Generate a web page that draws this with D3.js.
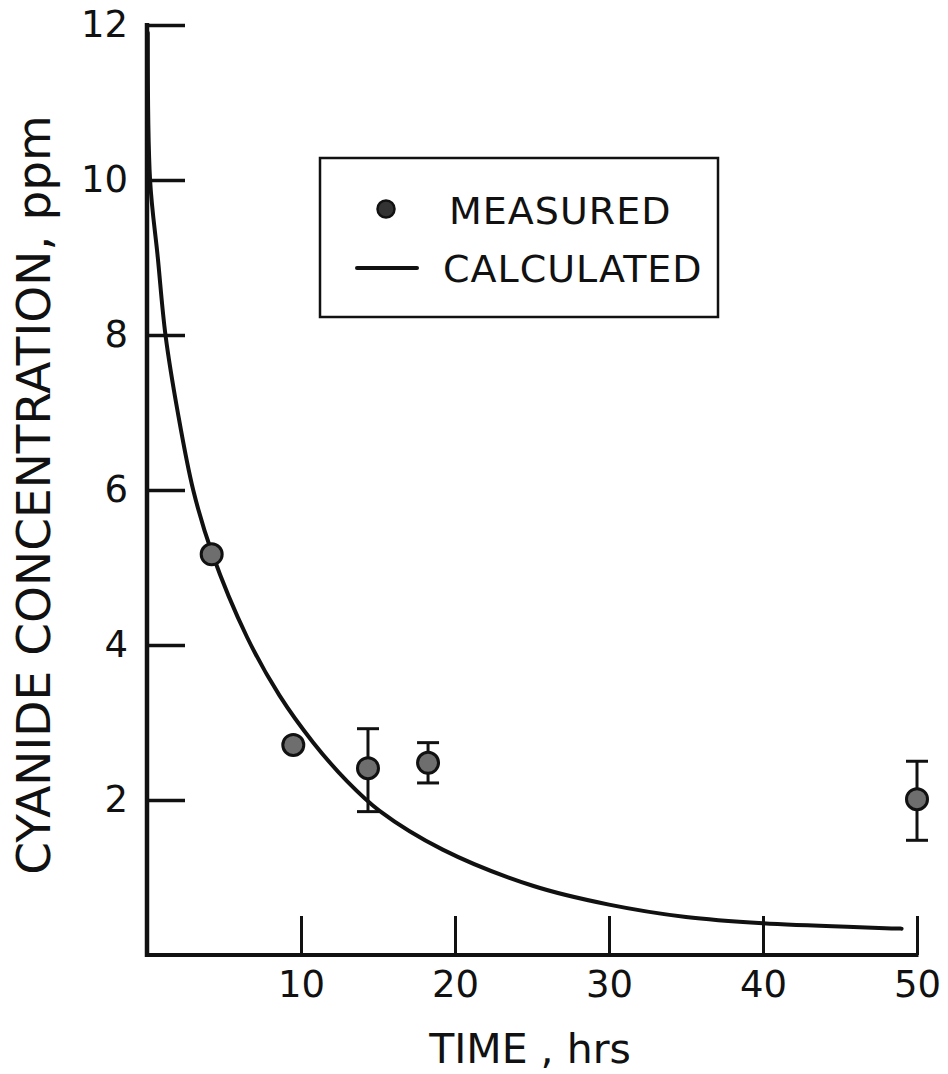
<!DOCTYPE html>
<html>
<head>
<meta charset="utf-8">
<script src="https://cdn.jsdelivr.net/npm/d3@7"></script>
<style>
  body { margin: 0; background: #fff; }
  text { font-family: "DejaVu Sans", sans-serif; fill: #111; }
</style>
</head>
<body>
<svg id="chart" width="948" height="1074"></svg>
<script>
// measured points (hrs, ppm)
var measTime = [4.2, 9.5, 14.35, 18.25, 50.0];
var measConc = [5.17, 2.71, 2.41, 2.48, 2.01];
// error bars: null = no bar
var errLow  = [null, null, 1.85, 2.22, 1.48];
var errHigh = [null, null, 2.92, 2.74, 2.50];

// calculated curve
var calcTime = [0.05, 0.2, 0.7, 1.2, 2.0, 3.0, 4.2, 6.5, 8.6, 10.8, 13.0, 15.1, 19.2, 25.1, 30, 35, 40, 49.0];
var calcConc = [11.9, 10.0, 9.0, 8.0, 7.0, 6.0, 5.2, 4.1, 3.35, 2.74, 2.24, 1.86, 1.36, 0.89, 0.65, 0.49, 0.41, 0.34];

var xTicks = [10, 20, 30, 40, 50];
var yTicks = [2, 4, 6, 8, 10, 12];

var svg = d3.select("#chart");

var x = d3.scaleLinear().domain([0, 50]).range([147, 917]);
var y = d3.scaleLinear().domain([0, 12]).range([955, 25]);

// axes, ticks pointing inward
var xAxis = svg.append("g")
    .attr("transform", "translate(0," + y(0) + ")")
    .call(d3.axisBottom(x).tickValues(xTicks).tickSize(-39).tickSizeOuter(0).tickPadding(16));
var yAxis = svg.append("g")
    .attr("transform", "translate(" + x(0) + ",0)")
    .call(d3.axisLeft(y).tickValues(yTicks).tickSize(-38).tickSizeOuter(0).tickPadding(19));

xAxis.select(".domain").attr("stroke", "#111").attr("stroke-width", 4).attr("d", "M" + (x(0) - 2) + ",0H" + (x(50) + 1.5));
yAxis.select(".domain").attr("stroke", "#111").attr("stroke-width", 4.5).attr("d", "M0," + (y(12) - 2) + "V" + (y(0) + 2));
xAxis.selectAll(".tick line").attr("stroke", "#111").attr("stroke-width", 3);
yAxis.selectAll(".tick line").attr("stroke", "#111").attr("stroke-width", 3.5);
xAxis.selectAll(".tick text").style("font-size", "37px").attr("fill", "#111");
yAxis.selectAll(".tick text").style("font-size", "37px").attr("fill", "#111");

// axis titles
svg.append("text")
    .attr("x", 530).attr("y", 1063)
    .attr("text-anchor", "middle")
    .style("font-size", "41px")
    .text("TIME , hrs");
svg.append("text")
    .attr("transform", "translate(50,495) rotate(-90)")
    .attr("text-anchor", "middle")
    .style("font-size", "47px")
    .text("CYANIDE CONCENTRATION, ppm");

// calculated curve
var calc = calcTime.map(function (t, i) { return [t, calcConc[i]]; });
var line = d3.line()
    .x(function (d) { return x(d[0]); })
    .y(function (d) { return y(d[1]); })
    .curve(d3.curveCatmullRom.alpha(0.5));
svg.append("path")
    .datum(calc)
    .attr("d", line)
    .attr("fill", "none")
    .attr("stroke", "#111")
    .attr("stroke-width", 4)
    .attr("stroke-linecap", "round");

// measured points with error bars
var meas = measTime.map(function (t, i) {
    return { t: t, c: measConc[i], lo: errLow[i], hi: errHigh[i] };
});
var bars = svg.append("g").selectAll("g")
    .data(meas.filter(function (d) { return d.lo !== null; }))
    .enter().append("g")
    .attr("stroke", "#111").attr("stroke-width", 3);
bars.append("line")
    .attr("x1", function (d) { return x(d.t); }).attr("x2", function (d) { return x(d.t); })
    .attr("y1", function (d) { return y(d.lo); }).attr("y2", function (d) { return y(d.hi); });
bars.append("line")
    .attr("x1", function (d) { return x(d.t) - 11; }).attr("x2", function (d) { return x(d.t) + 11; })
    .attr("y1", function (d) { return y(d.hi); }).attr("y2", function (d) { return y(d.hi); });
bars.append("line")
    .attr("x1", function (d) { return x(d.t) - 11; }).attr("x2", function (d) { return x(d.t) + 11; })
    .attr("y1", function (d) { return y(d.lo); }).attr("y2", function (d) { return y(d.lo); });

svg.append("g").selectAll("circle")
    .data(meas)
    .enter().append("circle")
    .attr("cx", function (d) { return x(d.t); })
    .attr("cy", function (d) { return y(d.c); })
    .attr("r", 10.5)
    .attr("fill", "#6e6e6e")
    .attr("stroke", "#111")
    .attr("stroke-width", 3);

// legend
var legend = svg.append("g");
legend.append("rect")
    .attr("x", 320).attr("y", 158).attr("width", 398).attr("height", 159)
    .attr("fill", "none").attr("stroke", "#111").attr("stroke-width", 2.5);
legend.append("circle")
    .attr("cx", 386).attr("cy", 209).attr("r", 8.5)
    .attr("fill", "#333").attr("stroke", "#111").attr("stroke-width", 2.5);
legend.append("line")
    .attr("x1", 357).attr("x2", 417).attr("y1", 268).attr("y2", 268)
    .attr("stroke", "#111").attr("stroke-width", 4).attr("stroke-linecap", "round");
legend.append("text")
    .attr("x", 449).attr("y", 224)
    .style("font-size", "38px").style("letter-spacing", "1px")
    .text("MEASURED");
legend.append("text")
    .attr("x", 443).attr("y", 282)
    .style("font-size", "38px").style("letter-spacing", "1px")
    .text("CALCULATED");
</script>
</body>
</html>
